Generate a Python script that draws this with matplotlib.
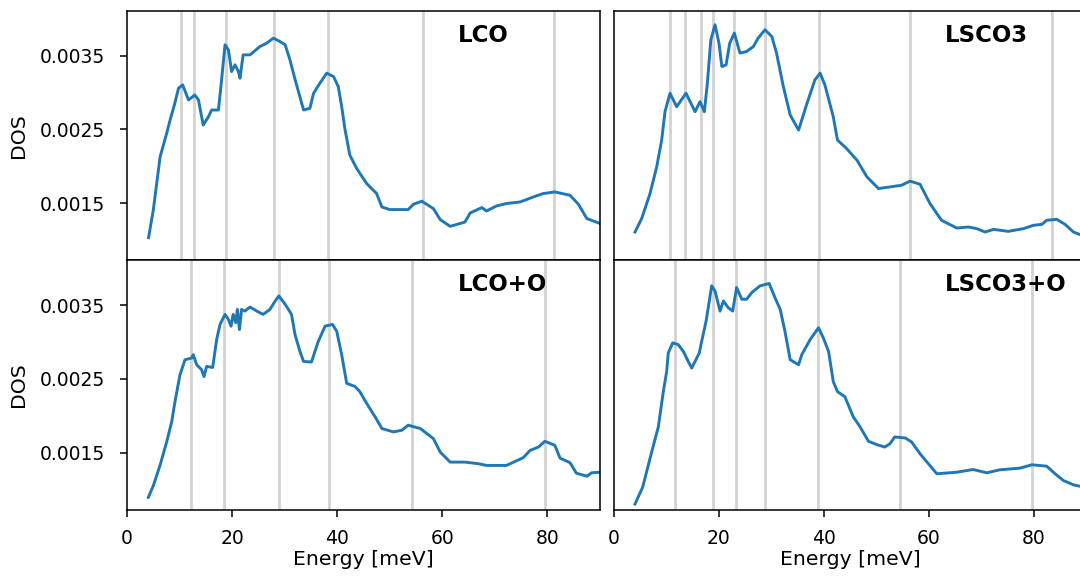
import matplotlib
matplotlib.use("Agg")
import matplotlib.pyplot as plt

# Phonon density of states for the four samples
lco_energy = [4.1, 5.0, 6.3, 7.55, 8.2, 9.1, 9.8, 10.6, 11.7, 12.9, 13.6, 14.5, 15.5, 16.1,
              17.4, 18.0, 18.65, 19.3, 19.9, 20.55, 21.2, 21.5, 22.1, 23.4, 25.3, 26.6,
              27.85, 29.1, 30.1, 31.0, 32.0, 33.6, 34.8, 35.5, 36.7, 38.0, 39.3, 40.2,
              40.85, 41.5, 42.4, 43.7, 45.6, 47.5, 48.5, 50.0, 53.5, 54.5, 56.1, 58.3,
              59.6, 61.5, 64.3, 65.3, 67.5, 68.4, 70.3, 72.2, 74.8, 77.3, 79.2, 81.4,
              84.3, 85.9, 87.5, 90.0]
lco_dos = [0.001033, 0.001404, 0.002128, 0.002446, 0.002626, 0.002853, 0.003057, 0.003102,
           0.002898, 0.002966, 0.002898, 0.002558, 0.002671, 0.002762, 0.002762, 0.003170,
           0.003645, 0.003577, 0.003283, 0.003374, 0.003283, 0.003193, 0.003509, 0.003509,
           0.003622, 0.003668, 0.003736, 0.003690, 0.003645, 0.003442, 0.003170, 0.002762,
           0.002785, 0.002989, 0.003125, 0.003261, 0.003215, 0.003079, 0.002807, 0.002490,
           0.002151, 0.001970, 0.001766, 0.001630, 0.001448, 0.001413, 0.001413, 0.001485,
           0.001526, 0.001426, 0.001277, 0.001186, 0.001244, 0.001367, 0.001440, 0.001394,
           0.001462, 0.001495, 0.001516, 0.001584, 0.001630, 0.001652, 0.001607, 0.001485,
           0.001291, 0.001225]

lsco3_energy = [4.07, 5.34, 6.93, 8.2, 9.15, 9.78, 10.73, 12.0, 13.78, 15.5, 16.44, 17.27,
                17.84, 18.5, 19.3, 20.05, 20.6, 21.4, 22.1, 22.97, 24.05, 25.3, 26.6, 27.5,
                28.8, 30.1, 31.0, 32.3, 33.6, 35.2, 36.7, 38.3, 39.3, 40.2, 41.8, 42.6,
                44.3, 46.3, 48.2, 50.4, 52.6, 54.8, 56.4, 58.3, 60.2, 62.4, 65.3, 67.5,
                69.1, 70.7, 72.3, 75.1, 78.0, 79.9, 81.5, 82.4, 84.3, 85.9, 87.5, 88.8, 90.0]
lsco3_dos = [0.001109, 0.001291, 0.001630, 0.001992, 0.002355, 0.002739, 0.002989, 0.002807,
             0.002989, 0.002739, 0.002875, 0.002739, 0.003125, 0.003713, 0.003917, 0.003668,
             0.003351, 0.003374, 0.003668, 0.003804, 0.003533, 0.003554, 0.003622, 0.003736,
             0.003849, 0.003758, 0.003533, 0.003079, 0.002694, 0.002490, 0.002830, 0.003170,
             0.003261, 0.003102, 0.002671, 0.002355, 0.002242, 0.002083, 0.001856, 0.001698,
             0.001720, 0.001743, 0.001798, 0.001757, 0.001495, 0.001268, 0.001163, 0.001177,
             0.001155, 0.001109, 0.001145, 0.001118, 0.001155, 0.001200, 0.001213, 0.001268,
             0.001281, 0.001213, 0.001109, 0.001073, 0.001060]

lco_o_energy = [4.06, 5.01, 6.28, 7.55, 8.5, 9.13, 10.08, 11.04, 12.3, 12.6, 13.26, 14.2,
                14.65, 15.16, 16.3, 17.06, 17.7, 18.65, 19.3, 19.8, 20.2, 20.7, 21.0, 21.4,
                21.8, 22.45, 23.4, 24.7, 25.9, 27.2, 28.2, 28.9, 30.1, 31.3, 31.97, 32.9,
                33.6, 35.1, 36.4, 37.7, 39.1, 39.9, 40.85, 41.8, 43.4, 44.3, 45.6, 47.2,
                48.5, 50.7, 52.3, 53.5, 55.8, 58.3, 59.6, 61.5, 64.3, 66.9, 68.4, 72.2,
                75.4, 76.7, 78.3, 79.5, 81.4, 82.4, 84.3, 85.5, 87.5, 88.4, 90.0]
lco_o_dos = [0.000894, 0.001054, 0.001327, 0.001645, 0.001917, 0.002190, 0.002555, 0.002759,
             0.002782, 0.002827, 0.002691, 0.002623, 0.002531, 0.002668, 0.002654, 0.003032,
             0.003237, 0.003373, 0.003305, 0.003213, 0.003373, 0.003260, 0.003441, 0.003168,
             0.003441, 0.003418, 0.003473, 0.003418, 0.003373, 0.003441, 0.003555, 0.003623,
             0.003510, 0.003373, 0.003100, 0.002872, 0.002736, 0.002728, 0.003009, 0.003214,
             0.003237, 0.003145, 0.002827, 0.002441, 0.002395, 0.002327, 0.002168, 0.001986,
             0.001827, 0.001781, 0.001804, 0.001872, 0.001827, 0.001690, 0.001508, 0.001372,
             0.001372, 0.001350, 0.001327, 0.001327, 0.001432, 0.001531, 0.001576, 0.001654,
             0.001600, 0.001426, 0.001364, 0.001222, 0.001181, 0.001227, 0.001235]

lsco3_o_energy = [4.07, 5.53, 7.24, 8.51, 9.46, 10.1, 10.4, 11.24, 12.3, 13.27, 14.03, 14.86,
                  16.3, 16.76, 17.6, 18.66, 19.3, 20.25, 20.9, 21.8, 22.66, 23.4, 24.4, 25.3,
                  26.3, 27.85, 29.6, 30.7, 31.7, 32.6, 33.6, 35.2, 35.8, 37.4, 39.0, 39.9,
                  40.9, 41.8, 42.6, 44.0, 45.6, 46.9, 48.5, 50.1, 51.6, 52.6, 53.5, 55.5,
                  56.7, 58.3, 61.5, 65.3, 68.4, 71.0, 73.5, 77.3, 79.6, 82.4, 84.0, 85.6,
                  87.5, 88.8, 90.0]
lsco3_o_dos = [0.000804, 0.001031, 0.001508, 0.001849, 0.002327, 0.002599, 0.002850, 0.002987,
               0.002964, 0.002872, 0.002760, 0.002646, 0.002850, 0.003009, 0.003282, 0.003759,
               0.003690, 0.003418, 0.003555, 0.003465, 0.003418, 0.003737, 0.003578, 0.003578,
               0.003669, 0.003759, 0.003792, 0.003601, 0.003441, 0.003145, 0.002760, 0.002691,
               0.002827, 0.003032, 0.003192, 0.003055, 0.002872, 0.002463, 0.002327, 0.002258,
               0.001986, 0.001849, 0.001654, 0.001609, 0.001576, 0.001622, 0.001713, 0.001699,
               0.001645, 0.001486, 0.001214, 0.001235, 0.001272, 0.001227, 0.001268, 0.001290,
               0.001336, 0.001317, 0.001214, 0.001122, 0.001064, 0.001044, 0.001035]

# Peak positions marked with vertical guide lines (meV)
lco_peaks = [10.2, 12.7, 18.8, 28.0, 38.2, 56.4, 81.3]
lsco3_peaks = [10.7, 13.6, 16.6, 19.0, 23.0, 28.8, 39.1, 56.4, 83.5]
lco_o_peaks = [12.2, 18.4, 29.0, 38.5, 54.2, 79.5]
lsco3_o_peaks = [11.7, 18.9, 23.2, 28.8, 38.9, 54.5, 79.6]

sample_names = ["LCO", "LSCO3", "LCO+O", "LSCO3+O"]
x_ticks = [0, 20, 40, 60, 80]
x_tick_labels = ["0", "20", "40", "60", "80"]
y_ticks = [0.0015, 0.0025, 0.0035]
y_tick_labels = ["0.0015", "0.0025", "0.0035"]

panels = [
    (lco_energy, lco_dos, lco_peaks),
    (lsco3_energy, lsco3_dos, lsco3_peaks),
    (lco_o_energy, lco_o_dos, lco_o_peaks),
    (lsco3_o_energy, lsco3_o_dos, lsco3_o_peaks),
]

W, H = 1080, 583
fig = plt.figure(figsize=(W / 100, H / 100), dpi=100)

# panel boxes in pixels: (left, top, width, height)
boxes = [
    (127, 10.5, 473, 249.5),
    (613.6, 10.5, 473, 249.5),
    (127, 260, 473, 249.5),
    (613.6, 260, 473, 249.5),
]

tick_fs = 13.5
label_fs = 14.7
for i, ((en, dos, peaks), name, (l, t, w, h)) in enumerate(zip(panels, sample_names, boxes)):
    ax = fig.add_axes([l / W, (H - t - h) / H, w / W, h / H])
    for p in peaks:
        ax.axvline(p, color="lightgray", lw=2, zorder=1)
    ax.plot(en, dos, color="#1f77b4", lw=2.1, zorder=2)
    ax.set_xlim(0, 90)
    ax.set_ylim(0.00073, 0.00411)
    for s in ax.spines.values():
        s.set_linewidth(1.1)
    ax.text(0.70, 0.9, name, transform=ax.transAxes, ha="left", va="center",
            fontsize=16.5, fontweight="bold")
    ax.set_xticks(x_ticks)
    ax.set_yticks(y_ticks)
    ax.tick_params(length=5, width=1.1, labelsize=tick_fs)
    ax.tick_params(axis="y", pad=11)
    ax.tick_params(axis="x", pad=9)
    if i % 2 == 0:
        ax.set_yticklabels(y_tick_labels)
        ax.set_ylabel("DOS", fontsize=label_fs, labelpad=8)
    else:
        ax.tick_params(left=False, labelleft=False)
    if i >= 2:
        ax.set_xticklabels(x_tick_labels)
        ax.set_xlabel("Energy [meV]", fontsize=label_fs, labelpad=1.5)
    else:
        ax.tick_params(bottom=False, labelbottom=False)

fig.savefig("out.png", dpi=100)
